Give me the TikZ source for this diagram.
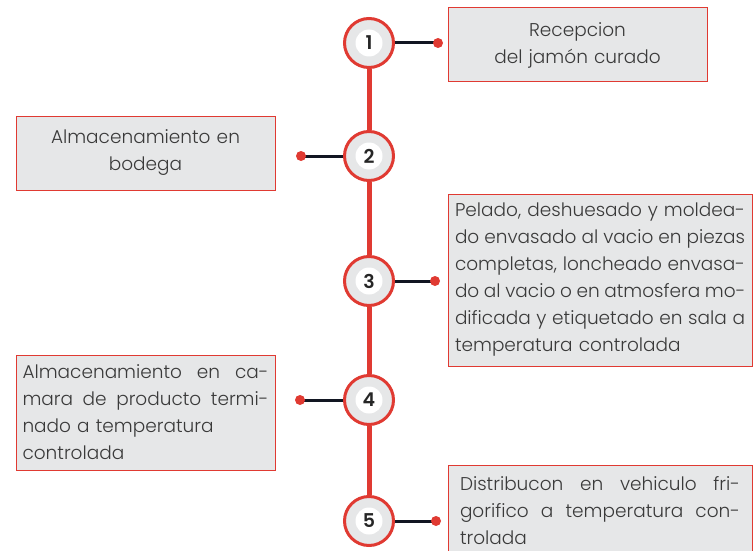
\documentclass[tikz,border=0pt]{standalone}
\usepackage{fontspec}
\setmainfont{Poppins}[UprightFont=* Light, BoldFont=* SemiBold]
\definecolor{redc}{HTML}{E03A32}
\definecolor{boxgray}{HTML}{E6E7E8}
\definecolor{txtc}{HTML}{3A3A3A}
\definecolor{connc}{HTML}{121622}
\newcommand\jl[1]{{\noindent\hbox to\hsize{\spaceskip=.25em plus 1fil\relax#1}\par}}
\newcommand\pl[1]{{\noindent\hbox{#1}\par}}
\begin{document}
\begin{tikzpicture}[x=1pt,y=-1pt,
  box/.style={draw=redc, line width=1pt, fill=boxgray, text=txtc,
    font=\fontsize{18.5}{27}\selectfont, inner ysep=0pt},
  stepcirc/.style={circle, draw=redc, line width=3pt, fill=boxgray,
    minimum size=49pt, inner sep=0pt},
  numdisk/.style={circle, fill=white, minimum size=27pt, inner sep=0pt,
    font=\bfseries\fontsize{19}{19}\selectfont, text=black!85},
  dot/.style={circle, fill=redc, minimum size=10pt, inner sep=0pt},
  conn/.style={draw=connc, line width=3pt},
  spine/.style={draw=redc, line width=5pt}]
\useasboundingbox (0,0) rectangle (755,551);

% boxes
\node[box, minimum width=259pt, minimum height=74pt, text width=245pt, align=center]
  (b1) at (577.5,45) {Recepcion\\del jamón curado};
\node[box, minimum width=259pt, minimum height=74pt, text width=245pt, align=center]
  (b2) at (145.5,153) {Almacenamiento en\\bodega};
\node[box, minimum width=304pt, minimum height=172pt, text width=290pt, inner xsep=7pt, align=left]
  (b3) at (600,280) {\jl{Pelado, deshuesado y moldea-}\jl{do envasado al vacio en piezas}\jl{completas, loncheado envasa-}\jl{do al vacio o en atmosfera mo-}\jl{dificada y etiquetado en sala a}\pl{temperatura controlada}};
\node[box, minimum width=259pt, minimum height=115pt, text width=246pt, inner xsep=6.5pt, align=left]
  (b4) at (145.5,412.5) {\jl{Almacenamiento en ca-}\jl{mara de producto termi-}\pl{nado a temperatura}\pl{controlada}};
\node[box, minimum width=304pt, minimum height=92pt, text width=280pt, inner xsep=12pt, align=left]
  (b5) at (600,511) {\jl{Distribucon en vehiculo fri-}\jl{gorifico a temperatura con-}\pl{trolada}};

% circles
\foreach \i/\y in {1/43,2/156,3/281,4/400,5/521}{
  \node[stepcirc] (c\i) at (369,\y) {};
  \node[numdisk] (n\i) at (c\i) {\i};
}
% spine
\draw[spine] (c1.south) -- (c2.north);
\draw[spine] (c2.south) -- (c3.north);
\draw[spine] (c3.south) -- (c4.north);
\draw[spine] (c4.south) -- (c5.north);

% connectors with dot ends
\coordinate (d1) at (438,43);
\coordinate (d2) at (301,156);
\coordinate (d3) at (435,281);
\coordinate (d4) at (300,400);
\coordinate (d5) at (436,521);
\draw[conn] (c1.east) -- (d1);
\draw[conn] (c2.west) -- (d2);
\draw[conn] (c3.east) -- (d3);
\draw[conn] (c4.west) -- (d4);
\draw[conn] (c5.east) -- (d5);
\foreach \i in {1,...,5}{\node[dot] (dot\i) at (d\i) {};}
\end{tikzpicture}
\end{document}
